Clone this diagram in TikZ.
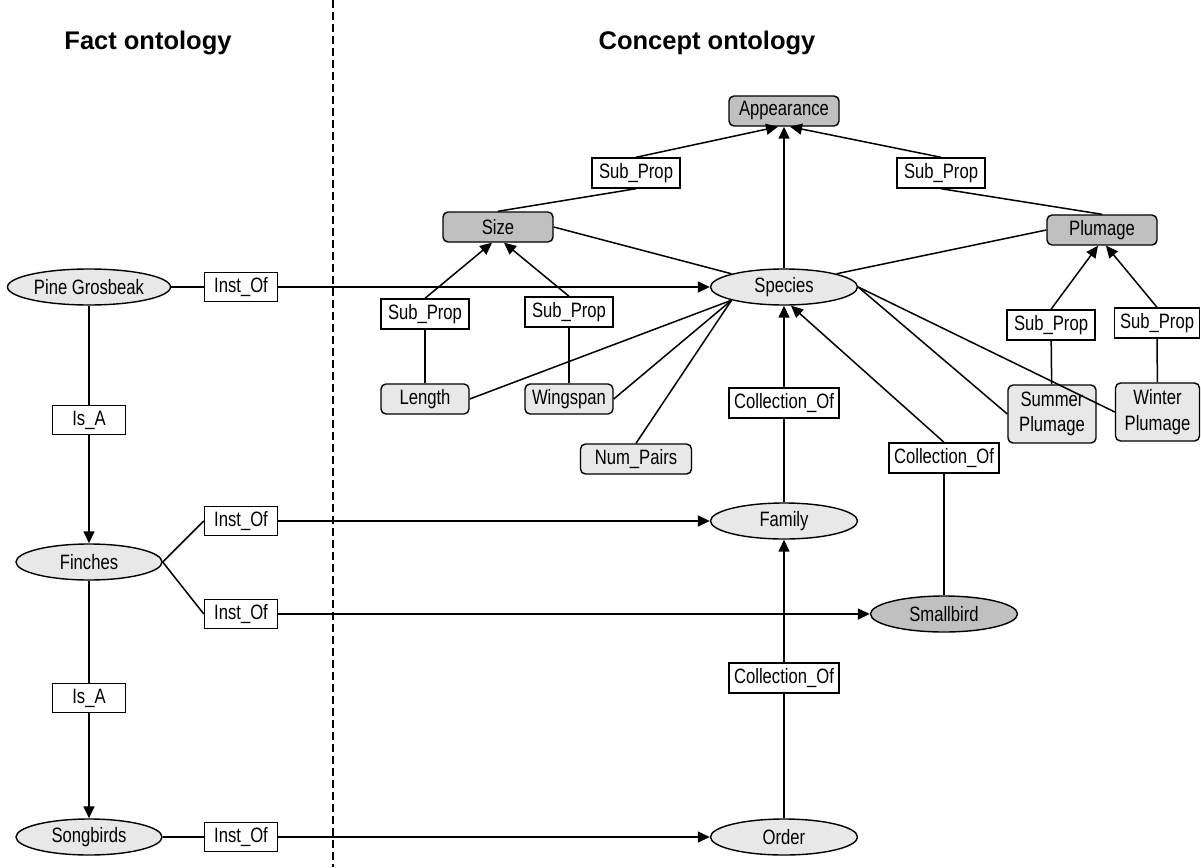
\documentclass[tikz,border=0pt]{standalone}
\usepackage{fontspec}
\setmainfont{Liberation Sans}[FakeStretch=0.80]
\newfontfamily\titlefont{Liberation Sans}
\usetikzlibrary{shapes.geometric,arrows.meta}
\definecolor{lightfill}{RGB}{232,232,232}
\definecolor{darkfill}{RGB}{192,192,192}
\begin{document}
\begin{tikzpicture}[x=1pt,y=-1pt,
  every node/.style={font=\fontsize{20.8}{25.5}\selectfont, inner sep=0pt, align=center},
  conn/.style={line width=1.5pt},
  arr/.style={line width=1.5pt, -{Triangle[length=12pt,width=11pt]}},
  ell/.style={ellipse, draw, line width=1.4pt, fill=lightfill, minimum width=147pt, minimum height=36pt},
  lbl/.style={rectangle, draw, line width=1.4pt, fill=white, minimum width=73pt, minimum height=29pt},
  lbox/.style={rectangle, rounded corners=5pt, draw, line width=1.4pt, fill=lightfill, minimum width=88pt, minimum height=30pt},
  dbox/.style={rectangle, rounded corners=5pt, draw, line width=1.4pt, fill=darkfill, minimum width=110pt, minimum height=30pt},
  ttl/.style={font=\titlefont\bfseries\fontsize{25.5}{30}\selectfont}
]
\useasboundingbox (0,0) rectangle (1201,867);

% titles and divider
\node[ttl] (t1) at (148,43) {Fact ontology};
\node[ttl] (t2) at (707,43) {Concept ontology};
\coordinate (dtop) at (333,0);
\coordinate (dbot) at (333,867);
\draw[line width=1.3pt, dash pattern=on 8pt off 4pt] (dtop) -- (dbot);

% fact ontology
\node[ell, minimum width=163pt] (pine) at (89,287) {Pine Grosbeak};
\node[lbl] (inst1) at (241,287) {Inst\_Of};
\node[lbl] (isa1) at (89,420) {Is\_A};
\node[ell, minimum width=146pt] (finches) at (89,562) {Finches};
\node[lbl] (instF1) at (241,521) {Inst\_Of};
\node[lbl] (instF2) at (241,614) {Inst\_Of};
\node[lbl] (isa2) at (89,698) {Is\_A};
\node[ell, minimum width=146pt] (songbirds) at (89,837) {Songbirds};
\node[lbl] (instS) at (241,837) {Inst\_Of};

% concept ontology
\node[dbox] (app) at (784,111) {Appearance};
\node[dbox] (size) at (498,227) {Size};
\node[dbox] (plum) at (1102,230) {Plumage};
\node[lbl, minimum width=88pt, minimum height=30pt] (sp1) at (636,173) {Sub\_Prop};
\node[lbl, minimum width=88pt, minimum height=30pt] (sp2) at (941,173) {Sub\_Prop};
\node[ell] (species) at (784,287) {Species};
\node[lbl, minimum width=88pt, minimum height=30pt] (sp3) at (425,314) {Sub\_Prop};
\node[lbl, minimum width=88pt, minimum height=30pt] (sp4) at (569,312) {Sub\_Prop};
\node[lbox] (len) at (425,399) {Length};
\node[lbox] (wing) at (569,399) {Wingspan};
\node[lbox, minimum width=111pt] (nump) at (636,459) {Num\_Pairs};
\node[lbl, minimum width=88pt, minimum height=30pt] (sp5) at (1051,325) {Sub\_Prop};
\node[lbl, minimum width=85pt, minimum height=30pt] (sp6) at (1157,323) {Sub\_Prop};
\node[lbox, minimum height=58pt] (summer) at (1052,414) {Summer\\Plumage};
\node[lbox, minimum width=84pt, minimum height=58pt] (winter) at (1157.5,412) {Winter\\Plumage};
\node[lbl, minimum width=110pt, minimum height=30pt] (coll1) at (784,403) {Collection\_Of};
\node[lbl, minimum width=110pt, minimum height=30pt] (coll3) at (944,458) {Collection\_Of};
\node[ell] (family) at (784,521) {Family};
\node[ell, fill=darkfill] (smallbird) at (944,614) {Smallbird};
\node[lbl, minimum width=110pt, minimum height=30pt] (coll2) at (784,678) {Collection\_Of};
\node[ell] (order) at (784,837) {Order};

% fact connectors
\draw[conn] (pine) -- (inst1);
\draw[arr] (inst1) -- (species);
\draw[conn] (pine) -- (isa1);
\draw[arr] (isa1) -- (finches);
\draw[conn] (finches.east) -- (instF1.west);
\draw[arr] (instF1) -- (family);
\draw[conn] (finches.east) -- (instF2.west);
\draw[arr] (instF2) -- (smallbird);
\draw[conn] (finches) -- (isa2);
\draw[arr] (isa2) -- (songbirds);
\draw[conn] (songbirds) -- (instS);
\draw[arr] (instS) -- (order);

% concept connectors
\draw[arr] (species) -- (app);
\draw[conn] (size.north) -- (sp1.south);
\draw[arr] (sp1.north) -- ([xshift=-6pt]app.south);
\draw[conn] (plum.north) -- (sp2.south);
\draw[arr] (sp2.north) -- ([xshift=6pt]app.south);
\draw[conn] (species.north west) -- (size.east);
\draw[conn] (species.north east) -- (plum.west);
\draw[conn] (len) -- (sp3);
\draw[arr] (sp3.north) -- ([xshift=-6pt]size.south);
\draw[conn] (wing) -- (sp4);
\draw[arr] (sp4.north) -- ([xshift=6pt]size.south);
\draw[conn] (summer) -- (sp5);
\draw[arr] (sp5.north) -- ([xshift=-4pt]plum.south);
\draw[conn] (winter) -- (sp6);
\draw[arr] (sp6.north) -- ([xshift=4pt]plum.south);
\draw[conn] (species.south west) -- (len.east);
\draw[conn] (species.south west) -- (wing.east);
\draw[conn] (species.south west) -- (nump.north);
\draw[conn] (species.east) -- (summer.west);
\draw[conn] (species.east) -- (winter.west);
\draw[conn] (family) -- (coll1);
\draw[arr] (coll1) -- (species);
\draw[conn] (smallbird) -- (coll3);
\draw[arr] (coll3.north) -- ([xshift=7pt]species.south);
\draw[conn] (order) -- (coll2);
\draw[arr] (coll2) -- (family);
\end{tikzpicture}
\end{document}
